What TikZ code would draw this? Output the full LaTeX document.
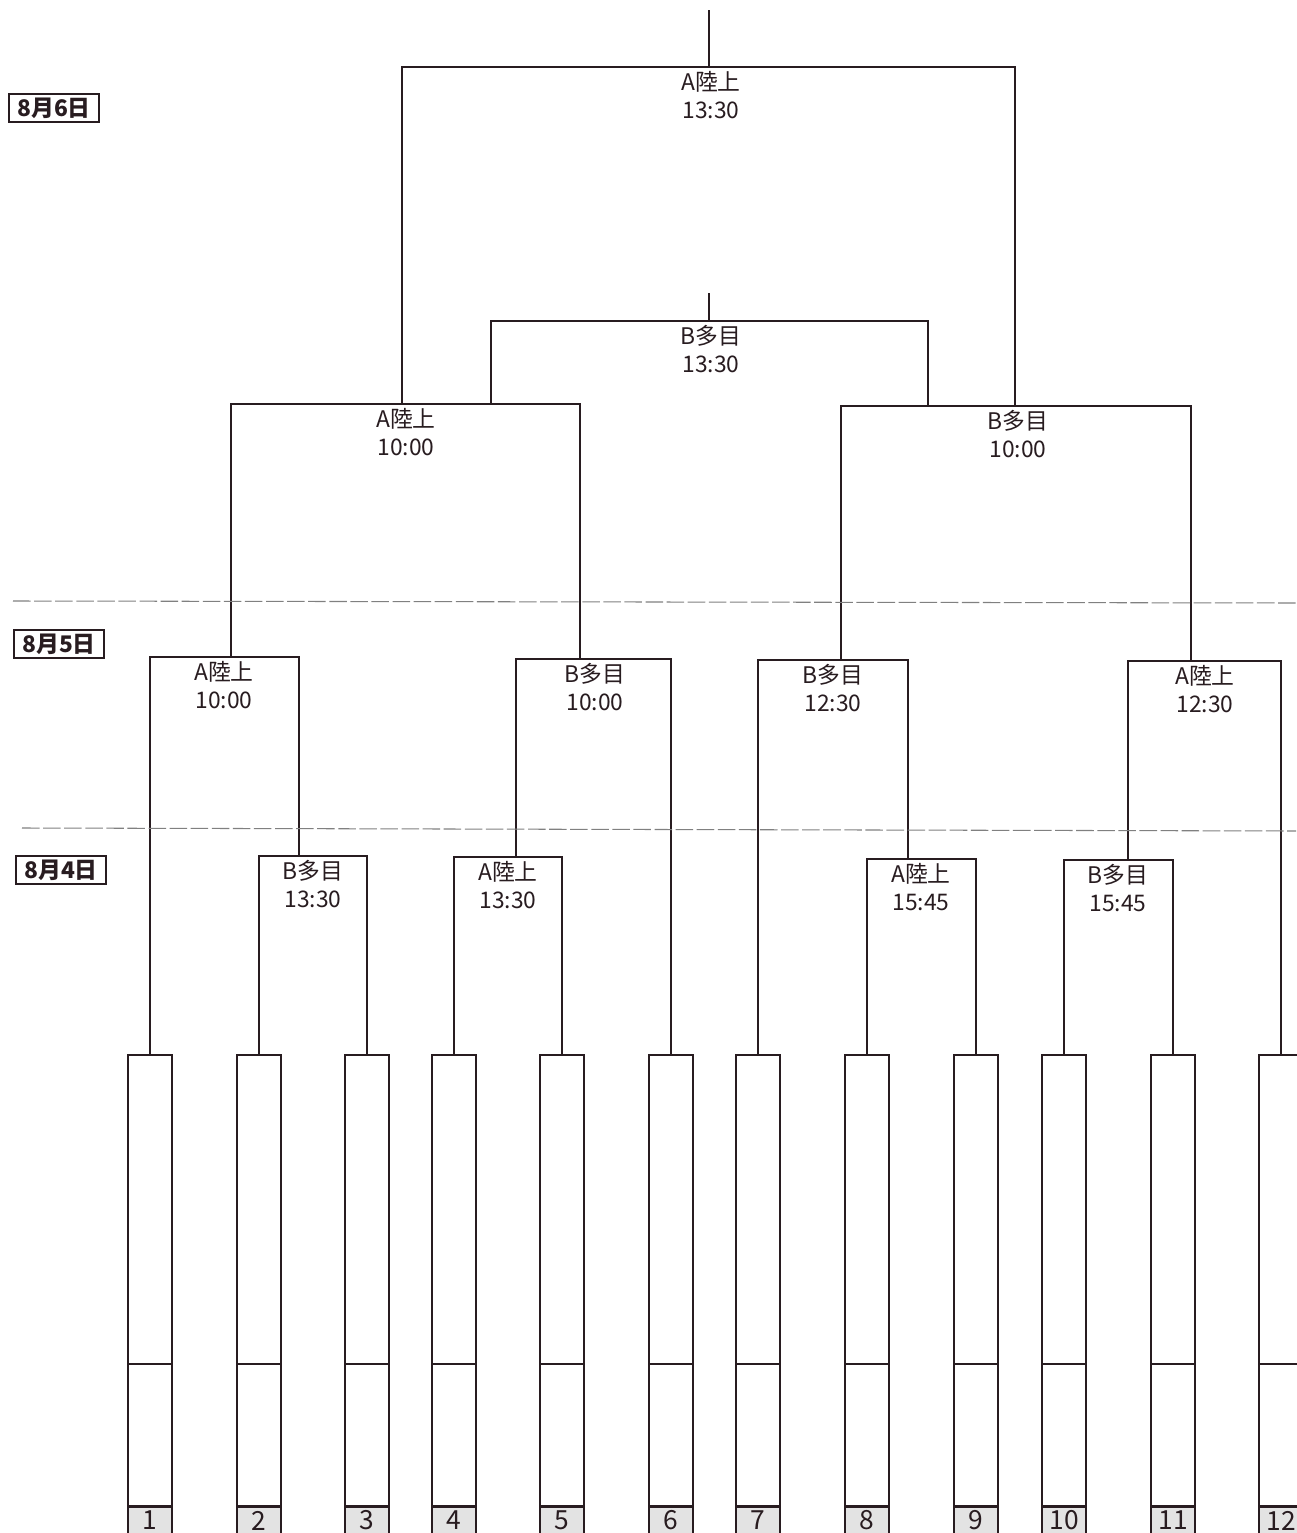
\documentclass[tikz,border=0pt]{standalone}
\usepackage{fontspec}
\setmainfont{Noto Sans CJK JP}
\usetikzlibrary{positioning}
\definecolor{ink}{RGB}{40,28,32}

\begin{document}
\begin{tikzpicture}[
    x=0.02cm, y=-0.02cm,
    color=ink, line width=1pt,
    teambox/.style={rectangle, draw=ink, line width=1pt, minimum width=0.88cm, minimum height=9.02cm, inner sep=0pt, anchor=north},
    numcell/.style={rectangle, draw=ink, line width=1pt, fill=gray!22, minimum width=0.88cm, minimum height=0.52cm, inner sep=0pt, font=\fontsize{15}{15}\selectfont},
    game/.style={align=center, anchor=north, inner sep=1pt, font=\fontsize{13}{16}\selectfont},
    daybox/.style={rectangle, draw=ink, line width=1.2pt, minimum width=1.8cm, minimum height=0.56cm, inner sep=0pt, anchor=north west, font=\fontsize{13}{13}\selectfont\bfseries},
    daysep/.style={gray, line width=0.6pt, dash pattern=on 10pt off 2pt}
]
\useasboundingbox (0,0) rectangle (1296,1533);

\foreach \i/\x in {1/150,2/259,3/367,4/454,5/562,6/671,7/758,8/867,9/976,10/1064,11/1173,12/1281}{
  \node[teambox] (t\i) at (\x,1054) {};
  \node[numcell, below=0pt of t\i] (n\i) {\i};
  \draw (t\i.west |- 0,1364) -- (t\i.east |- 0,1364);
}

\coordinate (g1) at (299,856);
\coordinate (g2) at (516,857);
\coordinate (g3) at (908,859);
\coordinate (g4) at (1128,860);
\coordinate (g5) at (231,657);
\coordinate (g6) at (580,659);
\coordinate (g7) at (841,660);
\coordinate (g8) at (1191,661);
\coordinate (g9a) at (402,404);
\coordinate (g9b) at (491,404);
\coordinate (g10a) at (1015,406);
\coordinate (g10b) at (928,406);
\coordinate (g11) at (709,321);
\coordinate (g11top) at (709,293);
\coordinate (g12) at (709,67);
\coordinate (g12top) at (709,10);

\draw (t2.north) |- (g1) -| (t3.north);
\draw (t4.north) |- (g2) -| (t5.north);
\draw (t8.north) |- (g3) -| (t9.north);
\draw (t10.north) |- (g4) -| (t11.north);
\draw (t1.north) |- (g5) -| (g1);
\draw (g2) |- (g6) -| (t6.north);
\draw (t7.north) |- (g7) -| (g3);
\draw (g4) |- (g8) -| (t12.north);
\draw (g5) |- (g9a) -| (g6);
\draw (g7) |- (g10a) -| (g8);
\draw (g9b) |- (g11) -| (g10b);
\draw (g11) -- (g11top);
\draw (g9a) |- (g12) -| (g10a);
\draw (g12) -- (g12top);

\node[game] (l12) at (711,69) {A陸上\\13:30};
\node[game] (l11) at (711,323) {B多目\\13:30};
\node[game] (l9) at (406,406) {A陸上\\10:00};
\node[game] (l10) at (1018,408) {B多目\\10:00};
\node[game] (l5) at (224,659) {A陸上\\10:00};
\node[game] (l6) at (595,661) {B多目\\10:00};
\node[game] (l7) at (833,662) {B多目\\12:30};
\node[game] (l8) at (1205,663) {A陸上\\12:30};
\node[game] (l1) at (313,858) {B多目\\13:30};
\node[game] (l2) at (508,859) {A陸上\\13:30};
\node[game] (l3) at (921,861) {A陸上\\15:45};
\node[game] (l4) at (1118,862) {B多目\\15:45};

\node[daybox] (d6) at (8,93) {8月6日};
\node[daybox] (d5) at (13,629) {8月5日};
\node[daybox] (d4) at (15,855) {8月4日};

\coordinate (s1a) at (13,601);
\coordinate (s1b) at (1296,603);
\coordinate (s2a) at (22,828);
\coordinate (s2b) at (1296,831);
\draw[daysep] (s1a) -- (s1b);
\draw[daysep] (s2a) -- (s2b);
\end{tikzpicture}
\end{document}
